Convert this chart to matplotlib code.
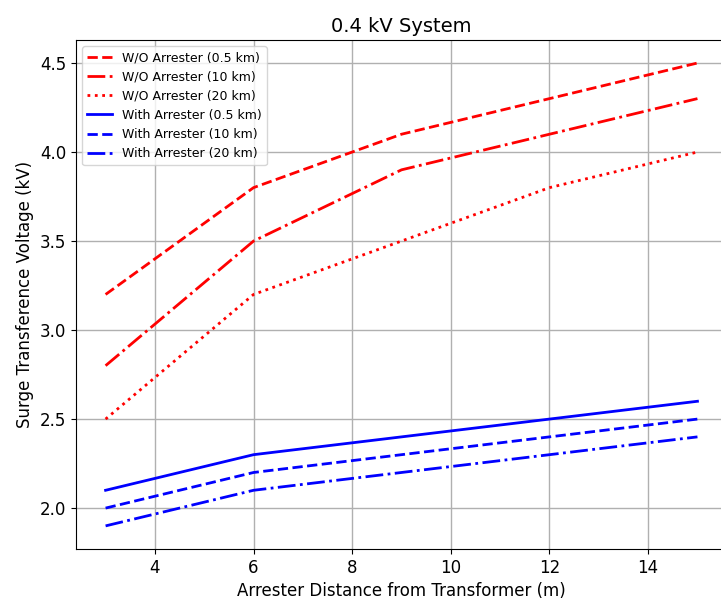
import matplotlib
matplotlib.use("Agg")
import matplotlib.pyplot as plt

# Arrester distance from transformer (m)
distance = [3, 6, 9, 12, 15]

# Surge transference voltage (kV)
wo_05km = [3.2, 3.8, 4.1, 4.3, 4.5]
wo_10km = [2.8, 3.5, 3.9, 4.1, 4.3]
wo_20km = [2.5, 3.2, 3.5, 3.8, 4.0]
with_05km = [2.1, 2.3, 2.4, 2.5, 2.6]
with_10km = [2.0, 2.2, 2.3, 2.4, 2.5]
with_20km = [1.9, 2.1, 2.2, 2.3, 2.4]

fig = plt.figure(figsize=(7.21, 6.04), dpi=100)
# axes run a little past the right edge (reference is cropped there)
ax = fig.add_axes([0.1054, 0.091, 0.903, 0.843])

ax.plot(distance, wo_05km, 'r--', lw=2, label='W/O Arrester (0.5 km)')
ax.plot(distance, wo_10km, 'r-.', lw=2, label='W/O Arrester (10 km)')
ax.plot(distance, wo_20km, 'r:', lw=2, label='W/O Arrester (20 km)')
ax.plot(distance, with_05km, 'b-', lw=2, label='With Arrester (0.5 km)')
ax.plot(distance, with_10km, 'b--', lw=2, label='With Arrester (10 km)')
ax.plot(distance, with_20km, 'b-.', lw=2, label='With Arrester (20 km)')

ax.set_title("0.4 kV System", fontsize=14)
ax.set_xlabel("Arrester Distance from Transformer (m)", fontsize=12)
ax.set_ylabel("Surge Transference Voltage (kV)", fontsize=12)
ax.tick_params(labelsize=12)
ax.grid(True, lw=1)
ax.legend(loc='upper left', fontsize=9)

fig.savefig("out.png", dpi=100)
